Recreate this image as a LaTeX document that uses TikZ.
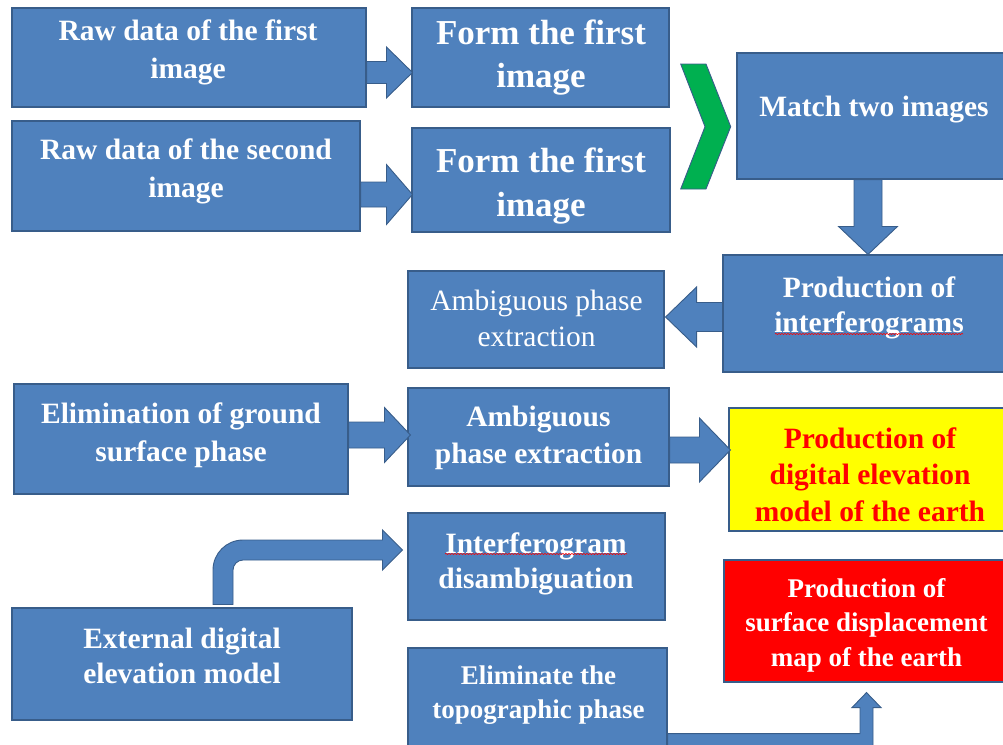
\documentclass[tikz,border=0pt]{standalone}
\usepackage{fontspec}
\setmainfont{Liberation Serif}
\usetikzlibrary{calc,decorations.pathmorphing}
\definecolor{boxblue}{HTML}{4F81BD}
\definecolor{edgeblue}{HTML}{385D8A}
\definecolor{chevgreen}{HTML}{00B050}
\definecolor{pured}{HTML}{FF0000}
\definecolor{purey}{HTML}{FFFF00}
\newcommand\harr[5]{%
 \filldraw[barrow] let \p1=(#1), \p2=(#2) in
 (\x1,{\y2+#3}) -- ({\x2-(#5)},{\y2+#3}) -- ({\x2-(#5)},{\y2+#4}) -- (\x2,\y2) -- ({\x2-(#5)},{\y2-#4}) -- ({\x2-(#5)},{\y2-#3}) -- (\x1,{\y2-#3}) -- cycle;}
\newcommand\varr[5]{%
 \filldraw[barrow] let \p1=(#1), \p2=(#2) in
 ({\x2+#3},\y1) -- ({\x2+#3},{\y2-(#5)}) -- ({\x2+#4},{\y2-(#5)}) -- (\x2,\y2) -- ({\x2-#4},{\y2-(#5)}) -- ({\x2-#3},{\y2-(#5)}) -- ({\x2-#3},\y1) -- cycle;}
\begin{document}
\begin{tikzpicture}[x=1pt,y=-1pt,
  box/.style={draw=edgeblue, fill=boxblue, line width=1.1pt, inner sep=0pt},
  txt/.style={text=white, align=center, inner sep=0pt, font=\fontsize{29.5}{36.5}\selectfont\bfseries},
  barrow/.style={draw=edgeblue, fill=boxblue, line width=0.9pt},
  squig/.style={draw=pured, line width=0.6pt, decorate, decoration={snake, amplitude=0.6pt, segment length=3pt}}]
\useasboundingbox (0,0) rectangle (1003,744);
% boxes
\node[box, minimum width=354, minimum height=99] (raw1) at (189,57.5) {};
\node[box, minimum width=348, minimum height=110] (raw2) at (186,176) {};
\node[box, minimum width=257, minimum height=99] (form1) at (540.5,57.5) {};
\node[box, minimum width=258, minimum height=104] (form2) at (541,180) {};
\node[box, minimum width=274, minimum height=126] (match) at (874,116) {};
\node[box, minimum width=288, minimum height=117] (prod) at (867,313.5) {};
\node[box, minimum width=256, minimum height=97] (amb1) at (536,319.5) {};
\node[box, minimum width=334, minimum height=110] (elim) at (181,439) {};
\node[box, minimum width=261, minimum height=98] (amb2) at (538.5,437) {};
\node[box, fill=purey, minimum width=282, minimum height=123] (yellow) at (870,469.5) {};
\node[box, minimum width=257, minimum height=107] (interf) at (536.5,566.5) {};
\node[box, fill=pured, minimum width=287, minimum height=122] (red) at (867.5,621) {};
\node[box, minimum width=340, minimum height=112] (ext) at (182,664) {};
\node[box, minimum width=259, minimum height=104] (topo) at (537.5,700) {};
% texts
\node[txt, font=\fontsize{29.5}{38}\selectfont\bfseries] (raw1t) at (188,52) {Raw data of the first\\image};
\node[txt, font=\fontsize{29.5}{38}\selectfont\bfseries] (raw2t) at (186,171) {Raw data of the second\\image};
\node[txt, font=\fontsize{35}{43}\selectfont\bfseries] (form1t) at (541,58) {Form the first\\image};
\node[txt, font=\fontsize{35}{44}\selectfont\bfseries] (form2t) at (541,186) {Form the first\\image};
\node[txt] (matcht) at (874,110) {Match two images};
\node[txt, font=\fontsize{29.5}{35}\selectfont\bfseries] (prodt) at (869,307.5) {Production of\\interferograms};
\node[txt, font=\fontsize{29.5}{36}\selectfont] (amb1t) at (536.5,318) {Ambiguous phase\\extraction};
\node[txt, font=\fontsize{29.5}{38}\selectfont\bfseries] (elimt) at (181,435) {Elimination of ground\\surface phase};
\node[txt] (amb2t) at (538.5,438) {Ambiguous\\phase extraction};
\node[txt, text=pured] (yellowt) at (870,474.5) {Production of\\digital elevation\\model of the earth};
\node[txt, font=\fontsize{29.5}{35}\selectfont\bfseries] (interft) at (536,563.5) {Interferogram\\disambiguation};
\node[txt, font=\fontsize{27}{34.5}\selectfont\bfseries] (redt) at (866.5,625) {Production of\\surface displacement\\map of the earth};
\node[txt, font=\fontsize{29.5}{35}\selectfont\bfseries] (extt) at (182,655.5) {External digital\\elevation model};
\node[txt, font=\fontsize{27}{34}\selectfont\bfseries] (topot) at (538.5,695) {Eliminate the\\topographic phase};
% spell-check squiggles
\draw[squig] (775,334) -- (963,334);
\draw[squig] (445,554) -- (627,554);
% green chevron
\filldraw[fill=chevgreen, draw=edgeblue, line width=0.9pt] (680.7,64) -- (706,64) -- (730.7,126.7) -- (706,189) -- (680.7,189) -- (705,126.7) -- cycle;
% block arrows
\harr{raw1.east}{$(form1.west)+(1,15)$}{11pt}{25.5pt}{26pt}
\harr{raw2.east}{$(form2.west)+(1,14.5)$}{12.5pt}{30pt}{26pt}
\varr{match.south}{$(prod.north)+(1,0)$}{14pt}{29.5pt}{-28pt}
\harr{prod.west}{$(amb1.east)+(1,-2.5)$}{14.5pt}{30pt}{-31pt}
\harr{elim.east}{$(amb2.west)+(3,-2)$}{13pt}{27.5pt}{26pt}
\harr{amb2.east}{$(yellow.west)+(2,-19.5)$}{13pt}{32pt}{31pt}
% bent arrow: external DEM -> interferogram disambiguation
\filldraw[barrow] let \p1=($(ext.north)+(41,-3)$), \p2=($(interf.west)+(-5,-16.5)$) in
 ({\x1-10pt},\y1) -- ({\x1-10pt},{\y2-20pt}) .. controls ({\x1-10pt},{\y2-3.4pt}) and ({\x1+3.4pt},{\y2+10pt}) .. ({\x1+20pt},{\y2+10pt})
 -- ({\x2-20pt},{\y2+10pt}) -- ({\x2-20pt},{\y2+20pt}) -- (\x2,\y2) -- ({\x2-20pt},{\y2-20pt}) -- ({\x2-20pt},{\y2-10pt})
 -- ({\x1+20pt},{\y2-10pt}) .. controls ({\x1+14.5pt},{\y2-10pt}) and ({\x1+10pt},{\y2-14.5pt}) .. ({\x1+10pt},{\y2-20pt})
 -- ({\x1+10pt},\y1) -- cycle;
% bent-up arrow: topographic phase -> surface displacement map
\filldraw[barrow] let \p1=(topo.east), \p2=($(red.south)+(-1,10)$) in
 (\x1,{\y2-41pt}) -- ({\x2-6.5pt},{\y2-41pt}) -- ({\x2-6.5pt},{\y2-15pt}) -- ({\x2-14.5pt},{\y2-15pt}) -- (\x2,\y2)
 -- ({\x2+14.5pt},{\y2-15pt}) -- ({\x2+6.5pt},{\y2-15pt}) -- ({\x2+6.5pt},{\y2-54pt}) -- (\x1,{\y2-54pt}) -- cycle;
\end{tikzpicture}
\end{document}
